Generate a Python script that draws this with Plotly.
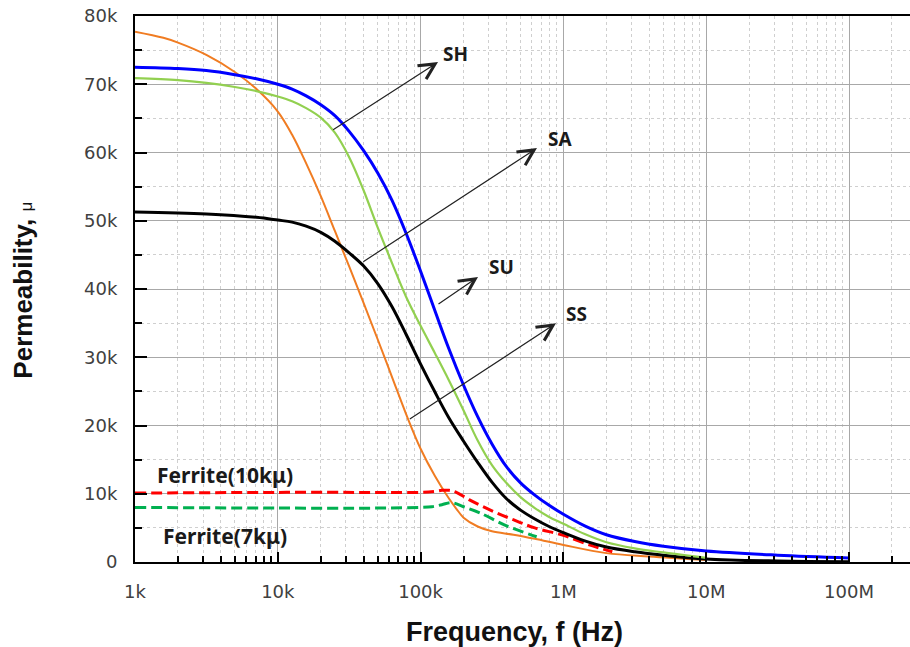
import numpy as np
import plotly.graph_objects as go

# ---------------- data (frequency in Hz, permeability in units of 1k) ----------------
sh_f = [1e3, 2e3, 3.16e3, 5e3, 7.08e3, 1e4, 1.26e4, 1.58e4, 2e4, 2.51e4, 3.16e4, 3.98e4, 5.01e4, 6.31e4,
        7.94e4, 1e5, 1.26e5, 1.58e5, 2e5, 2.51e5, 3.16e5, 3.98e5, 5.01e5, 6.31e5, 7.94e5, 1e6,
        1.41e6, 2e6, 3.16e6, 5.01e6, 1e7, 3.16e7, 1e8]
sh_mu = [72.5, 72.3, 72.0, 71.4, 70.8, 70.0, 69.3, 68.3, 67.0, 65.4, 63.1, 60.3, 57.0, 53.0,
         48.1, 42.6, 36.8, 31.2, 25.9, 21.3, 17.3, 14.0, 11.6, 9.8, 8.3, 7.0,
         5.3, 4.0, 3.0, 2.3, 1.6, 1.0, 0.6]

sa_f = [1e3, 2e3, 3.16e3, 5e3, 7.08e3, 1e4, 1.26e4, 1.58e4, 2e4, 2.51e4, 3.16e4, 3.98e4, 5.01e4, 6.31e4,
        7.94e4, 1e5, 1.26e5, 1.58e5, 2e5, 2.51e5, 3.16e5, 3.98e5, 5.01e5, 6.31e5, 7.94e5, 1e6,
        1.41e6, 2e6, 3.16e6, 5.01e6, 1e7]
sa_mu = [70.9, 70.6, 70.2, 69.6, 69.0, 68.2, 67.5, 66.5, 65.1, 62.9, 59.3, 54.5, 49.0, 43.8,
         38.8, 34.6, 30.6, 26.6, 22.2, 17.8, 14.2, 11.6, 9.5, 7.9, 6.6, 5.6,
         4.1, 2.9, 2.0, 1.4, 0.6]

su_f = [1e3, 3.16e3, 7.08e3, 1e4, 1.26e4, 1.58e4, 2e4, 2.51e4, 3.16e4, 3.98e4, 5.01e4, 6.31e4,
        7.94e4, 1e5, 1.26e5, 1.58e5, 2e5, 2.51e5, 3.16e5, 3.98e5, 5.01e5, 6.31e5, 7.94e5, 1e6,
        1.41e6, 2e6, 3.16e6, 5.01e6, 1e7, 3.16e7, 1e8]
su_mu = [51.3, 51.0, 50.5, 50.1, 49.8, 49.2, 48.3, 47.0, 45.3, 43.4, 40.8, 37.4,
         33.3, 29.0, 24.9, 21.1, 17.7, 14.6, 11.7, 9.3, 7.6, 6.3, 5.2, 4.3,
         3.1, 2.2, 1.5, 1.0, 0.45, 0.15, 0.05]

ss_f = [1e3, 1.58e3, 2e3, 3.16e3, 5e3, 7e3, 1e4, 1.26e4, 1.58e4, 2e4, 2.51e4, 3.16e4, 3.98e4, 5.01e4,
        6.31e4, 7.94e4, 1e5, 1.26e5, 1.58e5, 1.78e5, 2e5, 2.51e5, 3.16e5, 4.47e5, 6.31e5, 1e6,
        2e6, 3.98e6, 1e7]
ss_mu = [77.7, 76.8, 76.1, 74.3, 71.8, 69.4, 66.0, 62.6, 58.4, 53.6, 48.5, 43.3, 38.0, 32.6,
         27.1, 21.6, 16.6, 12.6, 9.3, 7.8, 6.5, 5.2, 4.5, 4.0, 3.4, 2.5,
         1.3, 0.8, 0.3]

fer10_f = [1e3, 1e4, 5e4, 1e5, 1.26e5, 1.41e5, 1.58e5, 1.78e5, 2.2e5, 3.16e5, 4.45e5, 6.3e5, 1e6, 1.58e6, 2.2e6]
fer10_mu = [10.1, 10.2, 10.2, 10.2, 10.35, 10.5, 10.5, 10.2, 9.1, 7.5, 6.2, 5.0, 3.9, 2.4, 1.5]

fer7_f = [1e3, 1e4, 5e4, 1e5, 1.2e5, 1.41e5, 1.65e5, 2e5, 2.6e5, 4e5, 6.5e5]
fer7_mu = [8.0, 7.9, 7.9, 8.0, 8.1, 8.4, 8.7, 8.1, 7.2, 5.3, 3.7]

x_tick_vals = [1e3, 1e4, 1e5, 1e6, 1e7, 1e8]
x_tick_text = ["1k", "10k", "100k", "1M", "10M", "100M"]
y_tick_vals = [0, 10000, 20000, 30000, 40000, 50000, 60000, 70000, 80000]
y_tick_text = ["0", "10k", "20k", "30k", "40k", "50k", "60k", "70k", "80k"]

# arrow labels: tail / head / text positions (Hz, permeability)
arrow_labels = ["SH", "SA", "SU", "SS"]
arrow_tail_f = [10**4.377, 10**4.588, 10**5.115, 10**4.914]
arrow_tail_mu = [63190, 43850, 37660, 20810]
arrow_head_f = [10**5.122, 10**5.815, 10**5.402, 10**5.948]
arrow_head_mu = [73260, 60660, 41760, 34970]
arrow_text_f = [10**5.241, 10**5.973, 10**5.563, 10**6.095]
arrow_text_mu = [74400, 61980, 43220, 36340]

ferrite_labels = ["Ferrite(10kμ)", "Ferrite(7kμ)"]
ferrite_text_f = [10**3.630, 10**3.630]
ferrite_text_mu = [12750, 3880]

# ---------------- figure ----------------
fig = go.Figure()

def add_line(f, mu, color, width, dash="solid"):
    fig.add_trace(go.Scatter(
        x=f, y=[m * 1000 for m in mu], mode="lines",
        line=dict(color=color, width=width, dash=dash, shape="spline", smoothing=1.0),
        showlegend=False, hoverinfo="skip"))

add_line(ss_f, ss_mu, "#F07C22", 2)
add_line(fer7_f, fer7_mu, "#00B050", 3, "11px,5px")
add_line(fer10_f, fer10_mu, "#FF0000", 3, "11px,5px")
add_line(su_f, su_mu, "#000000", 3)
add_line(sa_f, sa_mu, "#92D050", 2.2)
add_line(sh_f, sh_mu, "#0000FF", 3)

annotations = []
for i, lab in enumerate(arrow_labels):
    annotations.append(dict(
        x=np.log10(arrow_head_f[i]), y=arrow_head_mu[i], xref="x", yref="y",
        ax=np.log10(arrow_tail_f[i]), ay=arrow_tail_mu[i], axref="x", ayref="y",
        text="", showarrow=True, arrowhead=5, arrowsize=2.6, arrowwidth=1.2,
        arrowcolor="#222222", standoff=0, startstandoff=0))
    annotations.append(dict(
        x=np.log10(arrow_text_f[i]), y=arrow_text_mu[i], xref="x", yref="y",
        text=lab, showarrow=False, xanchor="center", yanchor="middle",
        font=dict(family="Noto Sans", size=19, color="#1a1a1a", weight="bold")))

for i, lab in enumerate(ferrite_labels):
    annotations.append(dict(
        x=np.log10(ferrite_text_f[i]), y=ferrite_text_mu[i], xref="x", yref="y",
        text=lab, showarrow=False, xanchor="center", yanchor="middle",
        font=dict(family="Noto Sans", size=21, color="#1a1a1a", weight="bold")))

# axis titles
annotations.append(dict(
    x=0.4903, y=0, xref="paper", yref="paper", yshift=-70,
    text="<b>Frequency, f (Hz)</b>", showarrow=False, xanchor="center", yanchor="middle",
    font=dict(family="Liberation Sans", size=27, color="#111111")))
annotations.append(dict(
    x=-0.1445, y=0.497, xref="paper", yref="paper", textangle=-90,
    text="<b>Permeability, </b><span style='font-size:17px'>μ</span>", showarrow=False,
    xanchor="center", yanchor="middle",
    font=dict(family="Liberation Sans", size=26, color="#111111")))

fig.update_layout(
    width=910, height=647,
    margin=dict(l=135, r=0, t=16, b=85, autoexpand=False),
    paper_bgcolor="white", plot_bgcolor="white",
    annotations=annotations,
    xaxis=dict(
        type="log", range=[3, 3 + 775 / 142.8], automargin=False,
        tickvals=x_tick_vals, ticktext=x_tick_text,
        ticks="inside", ticklen=10, tickwidth=2, tickcolor="black",
        showline=True, linecolor="black", linewidth=2, mirror=True,
        showgrid=True, gridcolor="#a8a8a8", gridwidth=1,
        tickfont=dict(family="DejaVu Sans", size=18, color="#404040"),
        ticklabelstandoff=12,
        minor=dict(dtick="D1", ticks="inside", ticklen=6, tickwidth=2, tickcolor="black",
                   showgrid=True, gridcolor="#cfcfcf", griddash="dot", gridwidth=1),
        zeroline=False,
    ),
    yaxis=dict(
        range=[0, 80000], automargin=False,
        tickvals=y_tick_vals, ticktext=y_tick_text,
        ticks="inside", ticklen=12, tickwidth=2, tickcolor="black",
        showline=True, linecolor="black", linewidth=2,
        showgrid=True, gridcolor="#a8a8a8", gridwidth=1,
        tickfont=dict(family="DejaVu Sans", size=18, color="#404040"),
        ticklabelstandoff=12,
        minor=dict(dtick=5000, ticks="inside", ticklen=7, tickwidth=2, tickcolor="black",
                   showgrid=True, gridcolor="#cfcfcf", griddash="dot", gridwidth=1),
        zeroline=False,
    ),
)

fig.write_html("out.html", config={"displayModeBar": False},
               post_script="document.body.style.margin='0';")
